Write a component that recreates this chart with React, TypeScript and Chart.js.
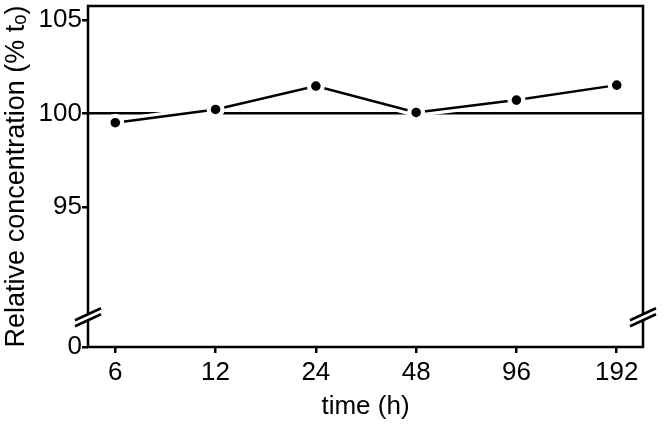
import React, { useEffect, useRef } from 'react';
import { Chart, registerables } from 'chart.js';

Chart.register(...registerables);

// ---- data ----
const timeLabels = ['6', '12', '24', '48', '96', '192'];
const concentration = [99.5, 100.21, 101.46, 100.05, 100.71, 101.51];
const yTickValues = [87.51, 95, 100, 105];
const yTickLabels = ['0', '95', '100', '105'];
const Y_MIN = 87.51; // plotted position of the broken-axis "0"
const Y_MAX = 105.74;
const X_MIN = -0.272;
const X_MAX = 5.262;
const REFERENCE = 100;
const BREAK_VALUE = 89.1;

const FONT = "'Liberation Sans', Arial, Helvetica, sans-serif";
const LW = 2.5;

const framePlugin = {
  id: 'frameAndBreaks',
  afterDraw(chart: any) {
    const { ctx, chartArea, scales } = chart;
    const { left, right, top, bottom } = chartArea;
    ctx.save();
    ctx.strokeStyle = '#000';
    ctx.lineWidth = LW;
    ctx.lineCap = 'square';
    ctx.beginPath();
    ctx.moveTo(left, top);
    ctx.lineTo(right, top);
    ctx.lineTo(right, bottom);
    ctx.lineTo(left, bottom);
    ctx.closePath();
    ctx.stroke();
    const by = scales.y.getPixelForValue(BREAK_VALUE);
    const dx = 13;
    const dy = 6;
    const s = 3;
    ctx.lineCap = 'butt';
    for (const x of [left, right]) {
      ctx.fillStyle = '#fff';
      ctx.beginPath();
      ctx.moveTo(x - dx, by - s + dy);
      ctx.lineTo(x + dx, by - s - dy);
      ctx.lineTo(x + dx, by + s - dy);
      ctx.lineTo(x - dx, by + s + dy);
      ctx.closePath();
      ctx.fill();
      ctx.beginPath();
      ctx.moveTo(x - dx, by - s + dy);
      ctx.lineTo(x + dx, by - s - dy);
      ctx.moveTo(x - dx, by + s + dy);
      ctx.lineTo(x + dx, by + s - dy);
      ctx.stroke();
    }
    ctx.restore();
  },
};

export default function App() {
  const ref = useRef<HTMLCanvasElement | null>(null);
  useEffect(() => {
    document.body.style.margin = '0';
    const canvas = ref.current;
    if (!canvas) return;
    const linePoints = concentration.map((v, i) => ({ x: i, y: v }));
    const haloPoints = concentration.map((v, i) => ({ x: i, y: v }));
    const refPoints = [
      { x: X_MIN, y: REFERENCE },
      { x: X_MAX, y: REFERENCE },
    ];
    const chart = new Chart(canvas, {
      type: 'line',
      data: {
        datasets: [
          {
            data: linePoints,
            borderColor: '#000000',
            borderWidth: LW,
            pointRadius: 6.9,
            pointBorderWidth: 4.2,
            pointBackgroundColor: '#000000',
            pointBorderColor: '#ffffff',
            order: 1,
          },
          {
            data: haloPoints,
            borderColor: '#ffffff',
            backgroundColor: '#ffffff',
            borderWidth: 9,
            pointRadius: 0,
            order: 2,
          },
          {
            data: refPoints,
            borderColor: '#000000',
            borderWidth: LW,
            pointRadius: 0,
            order: 3,
          },
        ],
      },
      options: {
        animation: false,
        responsive: false,
        events: [],
        layout: { autoPadding: false, padding: { top: 6, right: 21, left: 0, bottom: 0 } },
        plugins: { legend: { display: false }, tooltip: { enabled: false } },
        scales: {
          x: {
            type: 'linear',
            min: X_MIN,
            max: X_MAX,
            afterBuildTicks: (s: any) => {
              s.ticks = timeLabels.map((_, i) => ({ value: i }));
            },
            afterFit: (s: any) => {
              s.height = 79;
              s.paddingLeft = 0;
              s.paddingRight = 0;
            },
            grid: { drawOnChartArea: false, drawTicks: true, tickLength: 6, color: '#000', lineWidth: LW },
            border: { display: false },
            ticks: {
              autoSkip: false,
              maxRotation: 0,
              padding: 4,
              color: '#000',
              font: { family: FONT, size: 26 },
              callback: (_v: any, i: number) => timeLabels[i],
            },
            title: {
              display: true,
              text: 'time (h)',
              color: '#000',
              font: { family: FONT, size: 26 },
              padding: { top: 0, bottom: 4 },
            },
          },
          y: {
            type: 'linear',
            min: Y_MIN,
            max: Y_MAX,
            afterBuildTicks: (s: any) => {
              s.ticks = yTickValues.map((v) => ({ value: v }));
            },
            afterFit: (s: any) => {
              s.width = 88;
              s.paddingTop = 0;
              s.paddingBottom = 0;
            },
            grid: { drawOnChartArea: false, drawTicks: true, tickLength: 6, color: '#000', lineWidth: LW },
            border: { display: false },
            ticks: {
              autoSkip: false,
              padding: 0,
              color: '#000',
              font: { family: FONT, size: 26 },
              callback: (_v: any, i: number) => yTickLabels[i],
            },
            title: {
              display: true,
              text: 'Relative concentration (% tₒ)',
              color: '#000',
              font: { family: FONT, size: 27 },
              padding: { top: 0, bottom: 0 },
            },
          },
        },
      },
      plugins: [framePlugin],
    });
    return () => chart.destroy();
  }, []);
  return <canvas ref={ref} width={664} height={426} style={{ display: 'block' }} />;
}
